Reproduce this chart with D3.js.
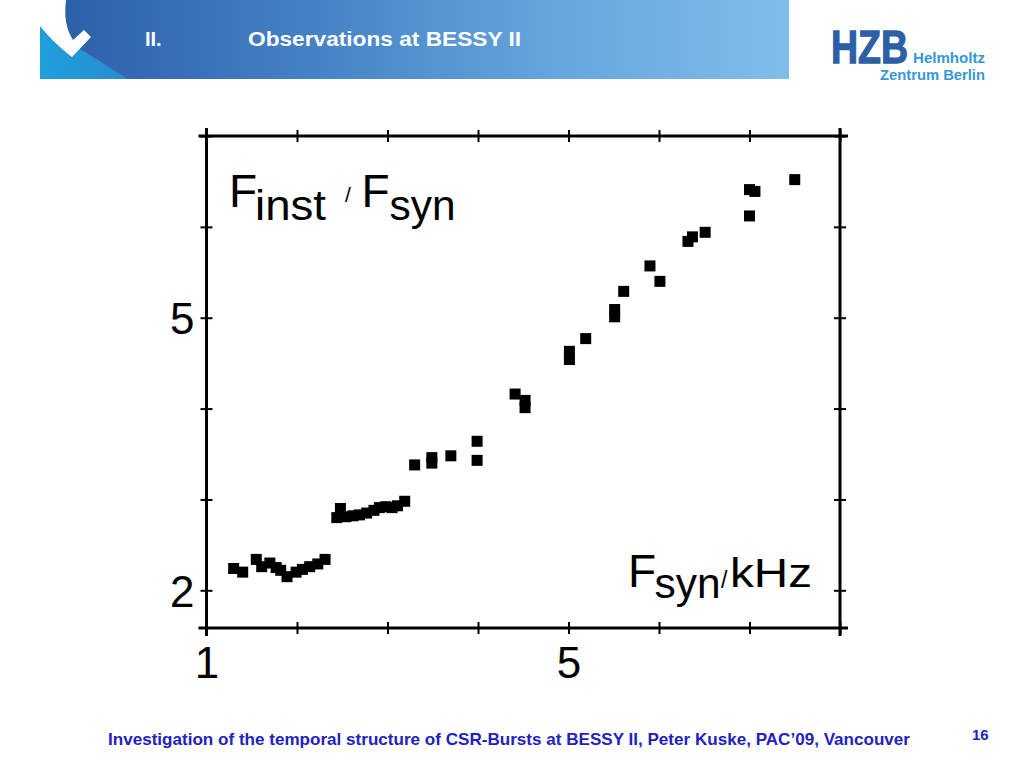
<!DOCTYPE html>
<html>
<head>
<meta charset="utf-8">
<script src="https://cdn.jsdelivr.net/npm/d3@7"></script>
<style>
html,body{margin:0;padding:0;background:#fff;}
svg{display:block;}
</style>
</head>
<body>
<script>
// ---- data ----
const fsyn = [1.30,1.40,1.55,1.61,1.70,1.77,1.82,1.89,1.99,2.06,2.14,2.23,2.31,
  2.44,2.48,2.54,2.62,2.69,2.77,2.85,2.91,2.98,3.05,3.11,3.19,
  3.30,3.49,3.49,3.70,3.99,3.99,4.41,4.52,4.52,5.01,5.01,5.19,5.51,5.51,5.61,5.90,6.01,6.32,6.37,6.51,7.00,7.06,7.00,7.50];
const ratio = [2.24,2.20,2.34,2.26,2.30,2.25,2.22,2.15,2.20,2.23,2.26,2.29,2.34,
  2.80,2.90,2.81,2.82,2.83,2.85,2.88,2.91,2.92,2.91,2.93,2.98,
  3.38,3.46,3.40,3.48,3.64,3.43,4.16,4.09,4.01,4.63,4.54,4.77,5.09,5.01,5.29,5.57,5.40,5.84,5.89,5.94,6.41,6.39,6.12,6.52];
const xTicks = [1,2,3,4,5,6,7,8];
const xTickLabels = ["1","","","","5","","",""];
const yTicks = [2,3,4,5,6,7];
const yTickLabels = ["2","","","5","",""];
const xDomain = [1,8];
const yDomain = [1.585,7];
const slideTitleNum = "II.";
const slideTitle = "Observations at BESSY II";
const footerText = "Investigation of the temporal structure of CSR-Bursts at BESSY II, Peter Kuske, PAC\u201909, Vancouver";
const pageNum = "16";

const W = 1024, H = 768;
const svg = d3.select("body").append("svg").attr("width", W).attr("height", H);
const defs = svg.append("defs");

// ---- header banner ----
const g1 = defs.append("linearGradient").attr("id","ban").attr("x1","0").attr("x2","1").attr("y1","0").attr("y2","0");
g1.append("stop").attr("offset","0%").attr("stop-color","#2b5da8");
g1.append("stop").attr("offset","35%").attr("stop-color","#4480c4");
g1.append("stop").attr("offset","70%").attr("stop-color","#67a6de");
g1.append("stop").attr("offset","100%").attr("stop-color","#80bdeb");
svg.append("rect").attr("x",40).attr("y",0).attr("width",749).attr("height",79).attr("fill","url(#ban)");
const g2 = defs.append("linearGradient").attr("id","cy").attr("x1","0").attr("x2","1").attr("y1","0").attr("y2","0");
g2.append("stop").attr("offset","0%").attr("stop-color","#1ea0dc");
g2.append("stop").attr("offset","100%").attr("stop-color","#2a8ccf");
svg.append("path").attr("d","M40,24 L128,79 L40,79 Z").attr("fill","url(#cy)");
svg.append("path").attr("d","M40,0 L66,0 C64,16 66,29 73,40 L84,30 L91,37 L72,57 C58,46 48,36 40,26 Z").attr("fill","#fff");

svg.append("text").attr("x",145).attr("y",46).attr("fill","#fff")
  .attr("font-family","Liberation Sans, Arial, sans-serif").attr("font-weight","bold").attr("font-size",20)
  .text(slideTitleNum);
svg.append("text").attr("x",248).attr("y",46).attr("fill","#fff")
  .attr("font-family","Liberation Sans, Arial, sans-serif").attr("font-weight","bold").attr("font-size",20)
  .attr("textLength",273).attr("lengthAdjust","spacingAndGlyphs")
  .text(slideTitle);

// ---- HZB logo ----
svg.append("text").attr("transform","translate(831,63) scale(1,1.25)").attr("fill","#2d5fa6")
  .attr("font-family","Liberation Sans, Arial, sans-serif").attr("font-weight","bold").attr("font-size",37.5)
  .attr("stroke","#2d5fa6").attr("stroke-width",1)
  .text("HZB");
svg.append("text").attr("x",913).attr("y",63).attr("fill","#3598d6")
  .attr("font-family","Liberation Sans, Arial, sans-serif").attr("font-weight","bold").attr("font-size",15)
  .attr("textLength",72).attr("lengthAdjust","spacingAndGlyphs").text("Helmholtz");
svg.append("text").attr("x",880).attr("y",80).attr("fill","#3598d6")
  .attr("font-family","Liberation Sans, Arial, sans-serif").attr("font-weight","bold").attr("font-size",15)
  .attr("textLength",105).attr("lengthAdjust","spacingAndGlyphs").text("Zentrum Berlin");

// ---- chart ----
const x = d3.scaleLinear().domain(xDomain).range([206.5, 840]);
const y = d3.scaleLinear().domain(yDomain).range([628, 136]);
const chart = svg.append("g");
const X0 = x.range()[0], X1 = x.range()[1], Y0 = y.range()[0], Y1 = y.range()[1];
const ext = 8;
const frame = chart.append("g").attr("stroke","#000").attr("stroke-width",3).attr("stroke-linecap","butt");
frame.append("line").attr("x1",X0-ext).attr("x2",X1+ext).attr("y1",Y0).attr("y2",Y0);
frame.append("line").attr("x1",X0-ext).attr("x2",X1+ext).attr("y1",Y1).attr("y2",Y1);
frame.append("line").attr("x1",X0).attr("x2",X0).attr("y1",Y1-ext).attr("y2",Y0+ext);
frame.append("line").attr("x1",X1).attr("x2",X1).attr("y1",Y1-ext).attr("y2",Y0+ext);

function styleAxis(sel, orient){
  sel.select(".domain").remove();
  sel.selectAll(".tick line").attr("stroke","#000").attr("stroke-width",2);
  if (orient === "h") sel.selectAll(".tick line").attr("y1",-6).attr("y2",6);
  else sel.selectAll(".tick line").attr("x1",-6).attr("x2",6);
  sel.selectAll(".tick text").attr("fill","#000").attr("font-family","Liberation Sans, Arial, sans-serif").attr("font-size",44);
}
const xb = chart.append("g").attr("transform",`translate(0,${Y0})`)
  .call(d3.axisBottom(x).tickValues(xTicks).tickFormat((d,i)=>xTickLabels[i]).tickSizeOuter(0).tickPadding(0));
styleAxis(xb,"h");
xb.selectAll(".tick text").attr("y",50).attr("dy",0);
const xt = chart.append("g").attr("transform",`translate(0,${Y1})`)
  .call(d3.axisTop(x).tickValues(xTicks).tickFormat("").tickSizeOuter(0));
styleAxis(xt,"h");
const yl = chart.append("g").attr("transform",`translate(${X0},0)`)
  .call(d3.axisLeft(y).tickValues(yTicks).tickFormat((d,i)=>yTickLabels[i]).tickSizeOuter(0));
styleAxis(yl,"v");
yl.selectAll(".tick text").attr("x",-12).attr("dy","0.37em").attr("text-anchor","end");
const yr = chart.append("g").attr("transform",`translate(${X1},0)`)
  .call(d3.axisRight(y).tickValues(yTicks).tickFormat("").tickSizeOuter(0));
styleAxis(yr,"v");

// points
const S = 11;
chart.append("g").selectAll("rect").data(fsyn.map((v,i)=>[v,ratio[i]])).join("rect")
  .attr("x",d=>x(d[0])-S/2).attr("y",d=>y(d[1])-S/2).attr("width",S).attr("height",S).attr("fill","#000");

// labels inside plot
const FF = "Liberation Sans, Arial, sans-serif";
function t(xp, yp, size, str, tl){
  const e = chart.append("text").attr("x",xp).attr("y",yp).attr("font-family",FF).attr("font-size",size).attr("fill","#000").text(str);
  if (tl) e.attr("textLength",tl).attr("lengthAdjust","spacingAndGlyphs");
  return e;
}
t(229, 207, 46, "F");
t(255, 220, 43, "inst", 71);
t(345, 202, 21, "/");
t(361.5, 207, 46, "F");
t(389.5, 220, 43, "syn", 66);
t(628, 587, 46, "F");
t(654.5, 598, 43, "syn", 66);
t(721, 588, 23, "/");
t(730, 587, 40, "kHz", 82);

// ---- footer ----
svg.append("text").attr("x",108).attr("y",745).attr("fill","#2222c2")
  .attr("font-family","Liberation Sans Narrow, Arial Narrow, Liberation Sans, sans-serif").attr("font-weight","bold").attr("font-size",17)
  .attr("textLength",802).attr("lengthAdjust","spacingAndGlyphs").text(footerText);
svg.append("text").attr("x",972).attr("y",740).attr("fill","#2222c2")
  .attr("font-family","Liberation Sans Narrow, Arial Narrow, Liberation Sans, sans-serif").attr("font-weight","bold").attr("font-size",15)
  .text(pageNum);
</script>
</body>
</html>
